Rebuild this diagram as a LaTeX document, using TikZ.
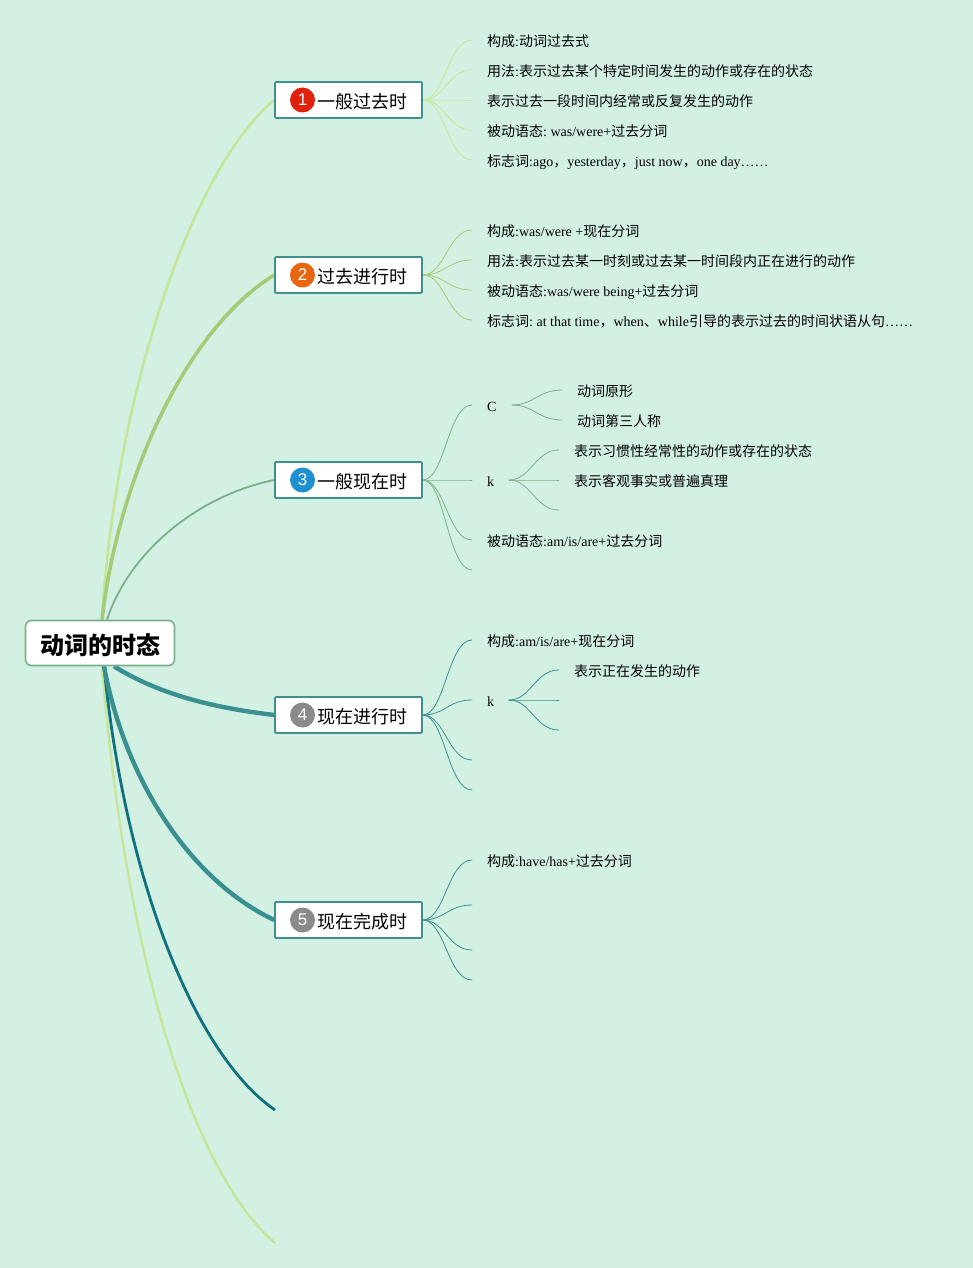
\documentclass[tikz,border=0pt]{standalone}
\usepackage{fontspec}
\usetikzlibrary{backgrounds}
\setmainfont{Liberation Serif}
\newfontfamily\cjk{Noto Sans CJK SC}
\newfontfamily\numf{Liberation Sans}
\newcommand\cj[1]{{\cjk #1}}
\frenchspacing
\definecolor{bgc}{HTML}{D3F1E2}
\definecolor{ca}{HTML}{C6E59B}
\definecolor{cb}{HTML}{A6CB78}
\definecolor{cc}{HTML}{7BAE8C}
\definecolor{cd}{HTML}{3A9090}
\definecolor{ce}{HTML}{0F7080}
\definecolor{boxc}{HTML}{3F8F92}
\definecolor{bone}{HTML}{E0220C}
\definecolor{btwo}{HTML}{E8660F}
\definecolor{bthree}{HTML}{1E90D2}
\definecolor{bgrey}{HTML}{8A8A8A}
\tikzset{
  rootbox/.style={draw=cc,line width=1.6pt,fill=white,rounded corners=6pt,minimum width=149pt,minimum height=45pt,inner sep=0pt,font=\cjk\fontsize{24}{26}\selectfont\bfseries},
  branchbox/.style={draw=boxc,line width=1.6pt,fill=white,rounded corners=1pt,minimum width=147pt,minimum height=36pt,inner sep=0pt},
  branchtext/.style={anchor=west,inner sep=0pt,font=\cjk\fontsize{18}{20}\selectfont},
  badge/.style={circle,minimum size=25pt,inner sep=0pt,text=white,font=\numf\fontsize{17}{17}\selectfont},
  leaf/.style={anchor=base west,inner sep=0pt,font=\fontsize{14}{16}\selectfont},
  thin link/.style={line width=0.8pt,line cap=round},
}
\begin{document}
\begin{tikzpicture}[x=1pt,y=-1pt]
\useasboundingbox (0,0) rectangle (973,1268);

% nodes
\node[rootbox] (root) at (100,643) {\raisebox{-2pt}[\height][\depth]{动词的时态}};
\node[branchbox] (b1) at (348.5,100) {};
\node[branchbox] (b2) at (348.5,275) {};
\node[branchbox] (b3) at (348.5,480) {};
\node[branchbox] (b4) at (348.5,715) {};
\node[branchbox] (b5) at (348.5,920) {};
\coordinate (b6) at (275,1110);
\coordinate (b7) at (275,1243);

\node[badge,fill=bone] (n1) at (302.5,100) {1};
\node[badge,fill=btwo] (n2) at (302.5,275) {2};
\node[badge,fill=bthree] (n3) at (302.5,480) {3};
\node[badge,fill=bgrey] (n4) at (302.5,715) {4};
\node[badge,fill=bgrey] (n5) at (302.5,920) {5};
\node[branchtext] (t1) at (317,101.8) {一般过去时};
\node[branchtext] (t2) at (317,276.8) {过去进行时};
\node[branchtext] (t3) at (317,481.8) {一般现在时};
\node[branchtext] (t4) at (317,716.8) {现在进行时};
\node[branchtext] (t5) at (317,921.8) {现在完成时};

% leaf anchors
\foreach \n/\y in {a1/40,a2/70,a3/100,a4/130,a5/160,
                   c1/230,c2/260,c3/290,c4/320,
                   d1/405,d2/480,d3/540,d4/570,
                   e1/640,e2/700,e3/760,e4/790,
                   f1/860,f2/905,f3/950,f4/980}
  \coordinate (\n) at (472,\y);
\coordinate (dk1) at (559,450);
\coordinate (dk2) at (559,480);
\coordinate (dk3) at (559,510);
\coordinate (dc1) at (562,390);
\coordinate (dc2) at (562,420);
\coordinate (ek1) at (559,670);
\coordinate (ek2) at (559,700);
\coordinate (ek3) at (559,730);
\coordinate (dcs) at (512,405);
\coordinate (dks) at (509,480);
\coordinate (eks) at (509,700);

% leaf text
\node[leaf] (la1) at (487,46.7) {\cj{构成}:\cj{动词过去式}};
\node[leaf] (la2) at (487,76.7) {\cj{用法}:\cj{表示过去某个特定时间发生的动作或存在的状态}};
\node[leaf] (la3) at (487,106.7) {\cj{表示过去一段时间内经常或反复发生的动作}};
\node[leaf] (la4) at (487,136.7) {\cj{被动语态}: was/were+\cj{过去分词}};
\node[leaf] (la5) at (487,166.7) {\cj{标志词}:ago\cj{，}yesterday\cj{，}just now\cj{，}one day……};
\node[leaf] (lc1) at (487,236.3) {\cj{构成}:was/were +\cj{现在分词}};
\node[leaf] (lc2) at (487,266.3) {\cj{用法}:\cj{表示过去某一时刻或过去某一时间段内正在进行的动作}};
\node[leaf] (lc3) at (487,296) {\cj{被动语态}:was/were being+\cj{过去分词}};
\node[leaf] (lc4) at (487,326) {\cj{标志词}: at that time\cj{，}when\cj{、}while\cj{引导的表示过去的时间状语从句}……};
\node[leaf] (ld1) at (487,411) {C};
\node[leaf] (ld2) at (487,486) {k};
\node[leaf] (ld3) at (487,546) {\cj{被动语态}:am/is/are+\cj{过去分词}};
\node[leaf] (ldc1) at (577,396) {\cj{动词原形}};
\node[leaf] (ldc2) at (577,426) {\cj{动词第三人称}};
\node[leaf] (ldk1) at (574,456) {\cj{表示习惯性经常性的动作或存在的状态}};
\node[leaf] (ldk2) at (574,486) {\cj{表示客观事实或普遍真理}};
\node[leaf] (le1) at (487,646) {\cj{构成}:am/is/are+\cj{现在分词}};
\node[leaf] (le2) at (487,706) {k};
\node[leaf] (lek1) at (574,676) {\cj{表示正在发生的动作}};
\node[leaf] (lf1) at (487,866) {\cj{构成}:have/has+\cj{过去分词}};

\begin{pgfonlayer}{background}
\fill[bgc] (0,0) rectangle (973,1268);
% main connectors
\draw[ca,line width=2.6pt] ([xshift=2pt]root.north) .. controls (115,400) and (190,170) .. (b1.west);
\draw[cb,line width=3.6pt] ([xshift=2pt]root.north) .. controls (118,480) and (185,330) .. (b2.west);
\draw[cc,line width=1.8pt] ([xshift=7pt]root.north) .. controls (130,550) and (200,495) .. (b3.west);
\draw[ca,line width=2.4pt] ([xshift=2pt]root.south) .. controls (125,950) and (190,1170) .. (b7);
\draw[ce,line width=2.8pt] ([xshift=4pt]root.south) .. controls (125,880) and (195,1055) .. (b6);
\draw[cd,line width=4.4pt] ([xshift=4pt]root.south) .. controls (125,780) and (190,880) .. (b5.west);
\draw[cd,line width=4.4pt] ([xshift=14pt]root.south) .. controls (160,695) and (215,708) .. (b4.west);

% branch links
\foreach \t in {a1,a2,a3,a4,a5}
  \draw[thin link,ca] (b1.east) .. controls +(22,0) and +(-24,0) .. (\t);
\foreach \t in {c1,c2,c3,c4}
  \draw[thin link,cb] (b2.east) .. controls +(22,0) and +(-24,0) .. (\t);
\foreach \t in {d1,d2,d3,d4}
  \draw[thin link,cc] (b3.east) .. controls +(22,0) and +(-24,0) .. (\t);
\foreach \t in {e1,e2,e3,e4}
  \draw[thin link,cd] (b4.east) .. controls +(22,0) and +(-24,0) .. (\t);
\foreach \t in {f1,f2,f3,f4}
  \draw[thin link,cd] (b5.east) .. controls +(22,0) and +(-24,0) .. (\t);
\foreach \t in {dc1,dc2}
  \draw[thin link,cc] (dcs) .. controls +(22,0) and +(-24,0) .. (\t);
\foreach \t in {dk1,dk2,dk3}
  \draw[thin link,cc] (dks) .. controls +(22,0) and +(-24,0) .. (\t);
\foreach \t in {ek1,ek2,ek3}
  \draw[thin link,cd] (eks) .. controls +(22,0) and +(-24,0) .. (\t);
\end{pgfonlayer}
\end{tikzpicture}
\end{document}
